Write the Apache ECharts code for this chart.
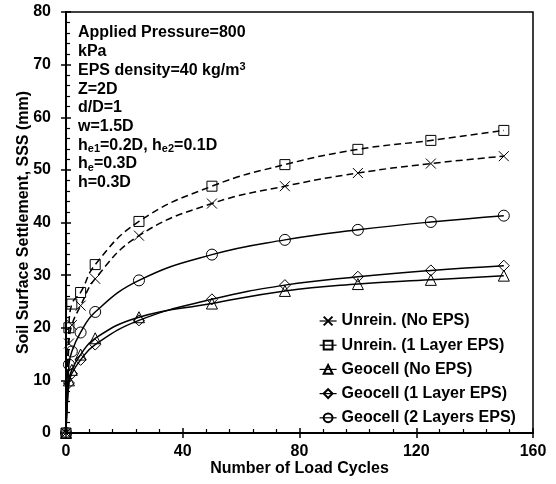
<!DOCTYPE html>
<html>
<head>
<meta charset="utf-8">
<script src="https://cdn.jsdelivr.net/npm/echarts@6/dist/echarts.min.js"></script>
<style>
  html, body { margin: 0; padding: 0; background: #fff; }
  #chart { width: 556px; height: 484px; }
</style>
</head>
<body>
<div id="chart"></div>
<script>
// data
const cycles = [0, 1, 2, 5, 10, 25, 50, 75, 100, 125, 150]
const unreinNoEps = [0, 17, 20.5, 24.2, 29.3, 37.5, 43.6, 46.9, 49.4, 51.2, 52.6]
const unreinOneLayer = [0, 20, 24.5, 26.7, 32.0, 40.2, 46.9, 51.0, 53.9, 55.6, 57.5]
const geocellNoEps = [0, 10, 12, 14.9, 18.0, 22.0, 24.6, 27.0, 28.3, 29.1, 29.9]
const geocellOneLayer = [0, 9.5, 11.3, 13.9, 16.8, 21.4, 25.4, 28.1, 29.7, 30.9, 31.8]
const geocellTwoLayers = [0, 13, 15.5, 19.1, 23.0, 29.0, 33.9, 36.7, 38.6, 40.1, 41.3]
const seriesNames = ['Unrein. (No EPS)', 'Unrein. (1 Layer EPS)', 'Geocell (No EPS)', 'Geocell (1 Layer EPS)', 'Geocell (2 Layers EPS)']

const font = 'Arial, "Liberation Sans", sans-serif'
const crossPath = 'path://M0,0L10,10M10,0L0,10'

function pairs(ys) {
  return cycles.map((x, i) => [x, ys[i]])
}

function makeSeries(name, ys, symbol, size, dashed) {
  return {
    name: name,
    type: 'line',
    data: pairs(ys),
    smooth: 0.45,
    symbol: symbol,
    symbolSize: size,
    showAllSymbol: true,
    itemStyle: { color: 'transparent', borderColor: '#000', borderWidth: 1 },
    lineStyle: { color: '#000', width: 1.5, type: dashed ? [7, 4] : 'solid' },
    emphasis: { disabled: true },
    xAxisIndex: 0,
    yAxisIndex: 0
  }
}

const chart = echarts.init(document.getElementById('chart'))

const tickLine = { color: '#000', width: 1.5 }
const labelStyle = { color: '#000', fontFamily: font, fontWeight: 'bold', fontSize: 16 }

chart.setOption({
  animation: false,
  backgroundColor: '#fff',
  grid: {
    left: 66, right: 23, top: 12, bottom: 51,
    containLabel: false,
    outerBoundsMode: 'none',
    show: true,
    borderColor: '#000',
    borderWidth: 1.5
  },
  legend: {
    orient: 'vertical',
    left: 314,
    top: 308,
    itemWidth: 17,
    itemHeight: 11,
    itemGap: 8.2,
    data: seriesNames,
    lineStyle: { type: 'solid', width: 1.2 },
    textStyle: { color: '#000', fontFamily: font, fontWeight: 'bold', fontSize: 16, lineHeight: 16 }
  },
  graphic: [{
    type: 'text',
    left: 78,
    top: 25,
    style: {
      text: [
        '{b|Applied Pressure=800}',
        '{b|kPa}',
        '{b|EPS density=40 kg/m}{sup|3}',
        '{b|Z=2D}',
        '{b|d/D=1}',
        '{b|w=1.5D}',
        '{b|h}{sub|e1}{b|=0.2D, h}{sub|e2}{b|=0.1D}',
        '{b|h}{sub|e}{b|=0.3D}',
        '{b|h=0.3D}'
      ].join('\n'),
      rich: {
        b: { fontFamily: font, fontWeight: 'bold', fontSize: 16, lineHeight: 18.7, fill: '#000' },
        sup: { fontFamily: font, fontWeight: 'bold', fontSize: 11, lineHeight: 13, verticalAlign: 'top', fill: '#000' },
        sub: { fontFamily: font, fontWeight: 'bold', fontSize: 11, lineHeight: 12, verticalAlign: 'bottom', fill: '#000' }
      }
    }
  }],
  xAxis: [{
    type: 'value',
    position: 'bottom',
    min: 0, max: 160, interval: 40,
    name: 'Number of Load Cycles',
    nameLocation: 'middle',
    nameGap: 28,
    nameMoveOverlap: false,
    nameTextStyle: labelStyle,
    axisLine: { lineStyle: { color: '#000', width: 2 } },
    axisTick: { inside: false, length: 5, lineStyle: tickLine },
    axisLabel: Object.assign({ margin: 11 }, labelStyle),
    splitLine: { show: false }
  }, {
    type: 'value',
    position: 'bottom',
    min: 0, max: 160, interval: 40,
    axisLine: { show: false },
    axisTick: { inside: true, length: 5, lineStyle: tickLine },
    minorTick: { show: true, splitNumber: 5, length: 4, lineStyle: { color: '#000', width: 1.2 } },
    axisLabel: { show: false },
    splitLine: { show: false }
  }],
  yAxis: [{
    type: 'value',
    position: 'left',
    min: 0, max: 80, interval: 10,
    name: 'Soil Surface Settlement, SSS (mm)',
    nameLocation: 'middle',
    nameGap: 34,
    nameMoveOverlap: false,
    nameTextStyle: labelStyle,
    axisLine: { lineStyle: { color: '#000', width: 2 } },
    axisTick: { inside: false, length: 5, lineStyle: tickLine },
    axisLabel: Object.assign({ margin: 15 }, labelStyle),
    splitLine: { show: false }
  }, {
    type: 'value',
    position: 'left',
    min: 0, max: 80, interval: 10,
    axisLine: { show: false },
    axisTick: { inside: true, length: 5, lineStyle: tickLine },
    minorTick: { show: true, splitNumber: 5, length: 4, lineStyle: { color: '#000', width: 1.2 } },
    axisLabel: { show: false },
    splitLine: { show: false }
  }],
  series: [
    makeSeries(seriesNames[0], unreinNoEps, crossPath, 10, true),
    makeSeries(seriesNames[1], unreinOneLayer, 'rect', 10, true),
    makeSeries(seriesNames[2], geocellNoEps, 'triangle', 11, false),
    makeSeries(seriesNames[3], geocellOneLayer, 'diamond', 11, false),
    makeSeries(seriesNames[4], geocellTwoLayers, 'circle', 11, false)
  ]
})
</script>
</body>
</html>
